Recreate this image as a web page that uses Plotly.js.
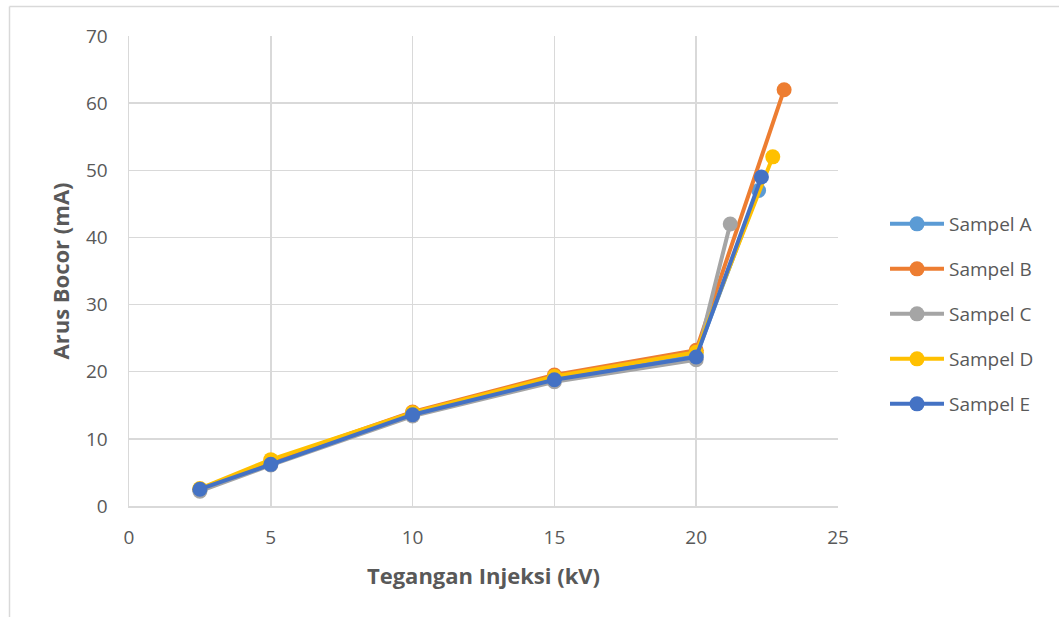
<!DOCTYPE html>
<html>
<head>
<meta charset="utf-8">
<script src="https://cdn.plot.ly/plotly-3.0.1.min.js"></script>
<style>html,body{margin:0;padding:0;background:#fff;}#chart{width:1059px;height:617px;}</style>
</head>
<body>
<div id="chart"></div>
<script>
const seriesNames = ["Sampel A", "Sampel B", "Sampel C", "Sampel D", "Sampel E"];
const xA = [2.5, 5, 10, 15, 20, 22.2];
const yA = [2.4, 6.3, 13.7, 18.9, 22.4, 47];
const xB = [2.5, 5, 10, 15, 20, 23.1];
const yB = [2.5, 6.7, 14.0, 19.5, 23.2, 62];
const xC = [2.5, 5, 10, 15, 20, 21.2];
const yC = [2.2, 6.1, 13.4, 18.5, 21.8, 42];
const xD = [2.5, 5, 10, 15, 20, 22.7];
const yD = [2.6, 6.9, 13.9, 19.3, 22.9, 52];
const xE = [2.5, 5, 10, 15, 20, 22.3];
const yE = [2.5, 6.2, 13.6, 18.8, 22.2, 49];
const xTicks = [0, 5, 10, 15, 20, 25];
const yTicks = [0, 10, 20, 30, 40, 50, 60, 70];

const colors = ["#5B9BD5", "#ED7D31", "#A5A5A5", "#FFC000", "#4472C4"];
const xs = [xA, xB, xC, xD, xE];
const ys = [yA, yB, yC, yD, yE];

const traces = seriesNames.map((n, i) => ({
  type: "scatter", mode: "lines+markers", name: n, legendgroup: "g" + i,
  x: xs[i], y: ys[i],
  line: {color: colors[i], width: 4},
  marker: {color: colors[i], size: 15}
}));

const fontFam = "'Open Sans', 'Liberation Sans', sans-serif";
const pl = 129, pr = 838, pt = 36, pb = 506;
const W = pr - pl, H = pb - pt;
const px = v => (v - pl) / W;
const py = v => (pb - v) / H;

const layout = {
  width: 1059, height: 617,
  margin: {l: pl, r: 1059 - pr, t: pt, b: 617 - pb, pad: 0, autoexpand: false},
  paper_bgcolor: "#fff", plot_bgcolor: "#fff",
  font: {family: fontFam, color: "#595959", size: 19},
  xaxis: {
    range: [0, 25], tickvals: xTicks, ticktext: xTicks.map(String),
    showgrid: true, gridcolor: "#d9d9d9", gridwidth: 1.5,
    showline: true, linecolor: "#d9d9d9", linewidth: 1.5,
    zeroline: false, ticks: "", ticklabelstandoff: 14,
    tickfont: {size: 19, color: "#595959", family: fontFam},
    title: {text: "Tegangan Injeksi (kV)", font: {size: 22, color: "#595959", family: fontFam, weight: "bold"}, standoff: 19}
  },
  yaxis: {
    range: [0, 70], tickvals: yTicks, ticktext: yTicks.map(String),
    showgrid: true, gridcolor: "#d9d9d9", gridwidth: 1.5,
    showline: true, linecolor: "#d9d9d9", linewidth: 1.5,
    zeroline: false, ticks: "", ticklabelstandoff: 16,
    tickfont: {size: 19, color: "#595959", family: fontFam},
    title: {text: "Arus Bocor (mA)", font: {size: 22, color: "#595959", family: fontFam, weight: "bold"}, standoff: 10}
  },
  legend: {
    x: px(885), y: py(205), xanchor: "left", yanchor: "top",
    font: {size: 19, color: "#595959", family: fontFam},
    tracegroupgap: 17.3, itemwidth: 54, bgcolor: "rgba(0,0,0,0)"
  },
  showlegend: true,
  shapes: [
    {type: "line", xref: "paper", yref: "paper", x0: px(9.5), x1: px(1060), y0: py(6.5), y1: py(6.5), line: {color: "#d9d9d9", width: 1.5}},
    {type: "line", xref: "paper", yref: "paper", x0: px(9.5), x1: px(9.5), y0: py(6.5), y1: py(620), line: {color: "#d9d9d9", width: 1.5}}
  ]
};

Plotly.newPlot("chart", traces, layout, {displayModeBar: false, staticPlot: true});
</script>
</body>
</html>
